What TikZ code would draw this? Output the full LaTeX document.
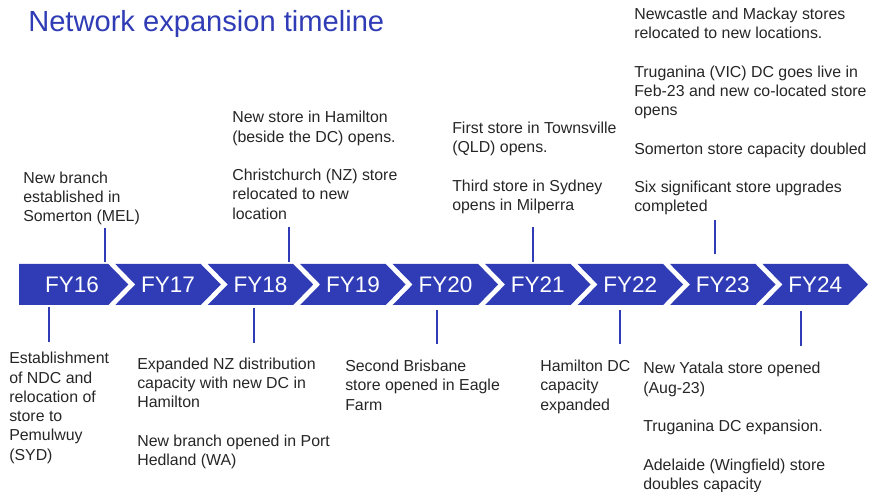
\documentclass[tikz,border=0pt]{standalone}
\usepackage{fontspec}
\setmainfont{Liberation Sans}
\usepackage{xcolor}
\definecolor{brand}{HTML}{2F3CB5}
\definecolor{ink}{HTML}{262626}

\tikzset{
  event/.style={anchor=base west, inner sep=0pt, align=left, text=ink,
    font=\fontsize{11.3}{13.7}\selectfont},
  tick/.style={brand, line width=1.4pt},
  yearlbl/.style={text=white, inner sep=0pt, font=\fontsize{16}{19}\selectfont},
}

\begin{document}
\begin{tikzpicture}[x=0.025cm,y=-0.025cm]
  \useasboundingbox (0,0) rectangle (870,492);

  \node[anchor=base west, inner sep=0pt, text=brand, font=\fontsize{20.7}{24}\selectfont]
    (title) at (28,31.5) {Network expansion timeline};

  % chevron band, one arrow per year
  \foreach \yr [count=\k from 0] in {16,...,24} {
    \pgfmathsetmacro\b{108.3+92.46*\k}
    \ifnum\k=0
      \fill[brand] (19,264) -- (\b,264) -- (\b+20,284.5) -- (\b,305) -- (19,305) -- cycle;
      \node[yearlbl] (fy\yr) at (72,284.5) {FY\yr};
    \else
      \pgfmathsetmacro\a{\b-85.46}
      \fill[brand] (\a,264) -- (\b,264) -- (\b+20,284.5) -- (\b,305) -- (\a,305)
        -- (\a+20,284.5) -- cycle;
      \node[yearlbl] (fy\yr) at ({(\a+\b+20)/2},284.5) {FY\yr};
    \fi
  }

  % ticks above and below the band
  \foreach \x/\ya/\yb in {105/228/262, 289/227/262, 533/227/262, 715/220/254,
                          49/307/342, 254/308/343, 437/310/344, 620/310/344, 801/311/346}
    \draw[tick] (\x,\ya) -- (\x,\yb);

  % events above (placed by the baseline of their last line)
  \node[event] (ev17) at (23,221.7) {New branch\\established in\\Somerton (MEL)};
  \node[event] (ev18) at (232,219.2) {New store in Hamilton\\(beside the DC) opens.\\[13.7pt]Christchurch (NZ) store\\relocated to new\\location};
  \node[event] (ev21) at (452,210.3) {First store in Townsville\\(QLD) opens.\\[13.7pt]Third store in Sydney\\opens in Milperra};
  \node[event] (ev23) at (634,212) {Newcastle and Mackay stores\\relocated to new locations.\\[13.7pt]Truganina (VIC) DC goes live in\\Feb-23 and new co-located store\\opens\\[13.7pt]Somerton store capacity doubled\\[13.7pt]Six significant store upgrades\\completed};

  % events below
  \node[event] (ev16) at (9,460.2) {Establishment\\of NDC and\\relocation of\\store to\\Pemulwuy\\(SYD)};
  \node[event] (ev18b) at (137,465.7) {Expanded NZ distribution\\capacity with new DC in\\Hamilton\\[13.7pt]New branch opened in Port\\Hedland (WA)};
  \node[event] (ev20) at (345,410.2) {Second Brisbane\\store opened in Eagle\\Farm};
  \node[event] (ev22) at (540,410.2) {Hamilton DC\\capacity\\expanded};
  \node[event] (ev24) at (643,489.5) {New Yatala store opened\\(Aug-23)\\[13.7pt]Truganina DC expansion.\\[13.7pt]Adelaide (Wingfield) store\\doubles capacity};
\end{tikzpicture}
\end{document}
